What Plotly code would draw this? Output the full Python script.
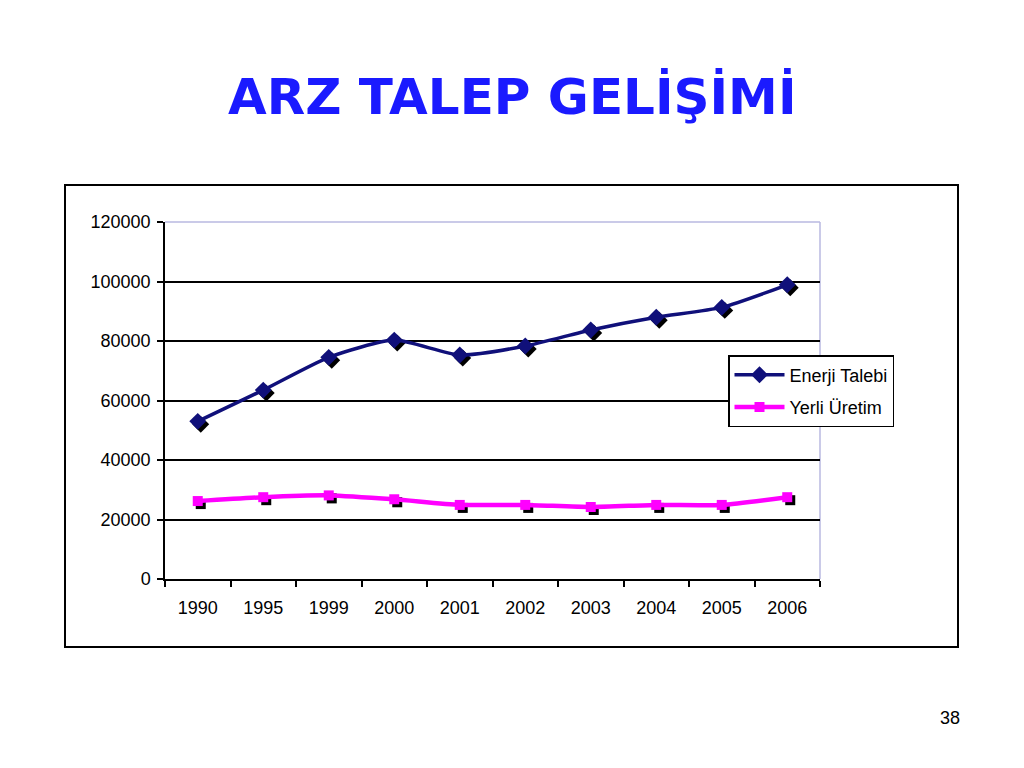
import plotly.graph_objects as go

years = ["1990", "1995", "1999", "2000", "2001", "2002", "2003", "2004", "2005", "2006"]
enerji_talebi = [53000, 63500, 74500, 80300, 75300, 78300, 83700, 88000, 91300, 98900]
yerli_uretim = [26200, 27500, 28100, 26800, 24900, 24900, 24200, 24900, 24900, 27500]
y_ticks = [0, 20000, 40000, 60000, 80000, 100000, 120000]

OFF = 8  # page body margin
W, H = 1024 - OFF, 768 - OFF


def px(X):
    return (X - OFF) / W


def py(Y):
    return 1 - (Y - OFF) / H


x0, x1 = px(165), px(820)
y0, y1 = py(579), py(222)
dx, dy = 3 / W, 3 / H

fig = go.Figure()

# shadows on hidden, slightly offset axes (drawn first, below)
fig.add_trace(go.Scatter(x=years, y=enerji_talebi, mode="markers", xaxis="x", yaxis="y",
                         marker=dict(symbol="diamond", size=13, color="black"),
                         showlegend=False, hoverinfo="skip"))
fig.add_trace(go.Scatter(x=years, y=yerli_uretim, mode="markers", xaxis="x", yaxis="y",
                         marker=dict(symbol="square", size=10, color="black"),
                         showlegend=False, hoverinfo="skip"))

fig.add_trace(go.Scatter(x=years, y=enerji_talebi, name="Enerji Talebi", mode="lines+markers",
                         xaxis="x2", yaxis="y2", legendgroup="a",
                         line=dict(color="#10107a", width=3.5, shape="spline", smoothing=0.6),
                         marker=dict(symbol="diamond", size=13, color="#10107a")))
fig.add_trace(go.Scatter(x=years, y=yerli_uretim, name="Yerli Üretim", mode="lines+markers",
                         xaxis="x2", yaxis="y2", legendgroup="b",
                         line=dict(color="#ff00ff", width=4.5, shape="spline", smoothing=0.6),
                         marker=dict(symbol="square", size=10, color="#ff00ff")))

axis_font = dict(family="Liberation Sans, Arial, sans-serif", size=18, color="black")

fig.update_layout(
    template="none",
    width=W, height=H,
    margin=dict(l=0, r=0, t=0, b=0, pad=0),
    paper_bgcolor="white", plot_bgcolor="rgba(0,0,0,0)",
    xaxis=dict(domain=[x0 + dx, x1 + dx], type="category", visible=False, anchor="y",
               range=[-0.5, 9.5], automargin=False),
    yaxis=dict(domain=[y0 - dy, y1 - dy], range=[0, 120000], visible=False, anchor="x",
               automargin=False),
    xaxis2=dict(domain=[x0, x1], type="category", showline=True, linecolor="black", linewidth=2,
                ticks="outside", tickson="boundaries", ticklen=6, tickcolor="black", tickwidth=1.5,
                showgrid=False, tickfont=axis_font, anchor="y2", range=[-0.5, 9.5],
                ticklabelstandoff=11, automargin=False),
    yaxis2=dict(domain=[y0, y1], range=[0, 120000], tickvals=y_ticks, tickformat="d",
                showline=True, linecolor="black", linewidth=1.5, ticks="outside", ticklen=6,
                tickcolor="black", tickwidth=1.5, ticklabelstandoff=3,
                showgrid=True, gridcolor="black", gridwidth=1.5, tickfont=axis_font,
                zeroline=False, anchor="x2", automargin=False),
    legend=dict(x=px(728), y=py(355), xanchor="left", yanchor="top",
                bgcolor="white", bordercolor="black", borderwidth=1.5,
                font=dict(family="Liberation Sans, Arial, sans-serif", size=18, color="black"),
                itemwidth=50, tracegroupgap=6),
    showlegend=True,
    font=dict(family="Liberation Sans, Arial, sans-serif", color="black"),
)

# chart border box
fig.add_shape(type="rect", xref="paper", yref="paper", x0=px(65), x1=px(958),
              y0=py(647), y1=py(185), line=dict(color="black", width=2), layer="below")
# light plot area border (top, right)
fig.add_shape(type="line", xref="paper", yref="paper", x0=x0, x1=x1, y0=y1, y1=y1,
              line=dict(color="#b8b8e0", width=1.5), layer="below")
fig.add_shape(type="line", xref="paper", yref="paper", x0=x1, x1=x1, y0=y0, y1=y1,
              line=dict(color="#b8b8e0", width=1.5), layer="below")

fig.add_annotation(text="<b>ARZ TALEP GELİŞİMİ</b>", xref="paper", yref="paper",
                   x=px(512), y=py(97), showarrow=False, xanchor="center", yanchor="middle",
                   font=dict(family="Comic Sans MS, DejaVu Sans, sans-serif", size=50, color="#1a1aff"))
fig.add_annotation(text="38", xref="paper", yref="paper", x=px(962), y=py(718),
                   showarrow=False, xanchor="right", yanchor="middle",
                   font=dict(family="Liberation Sans, Arial, sans-serif", size=18, color="black"))

fig.write_html("out.html")
